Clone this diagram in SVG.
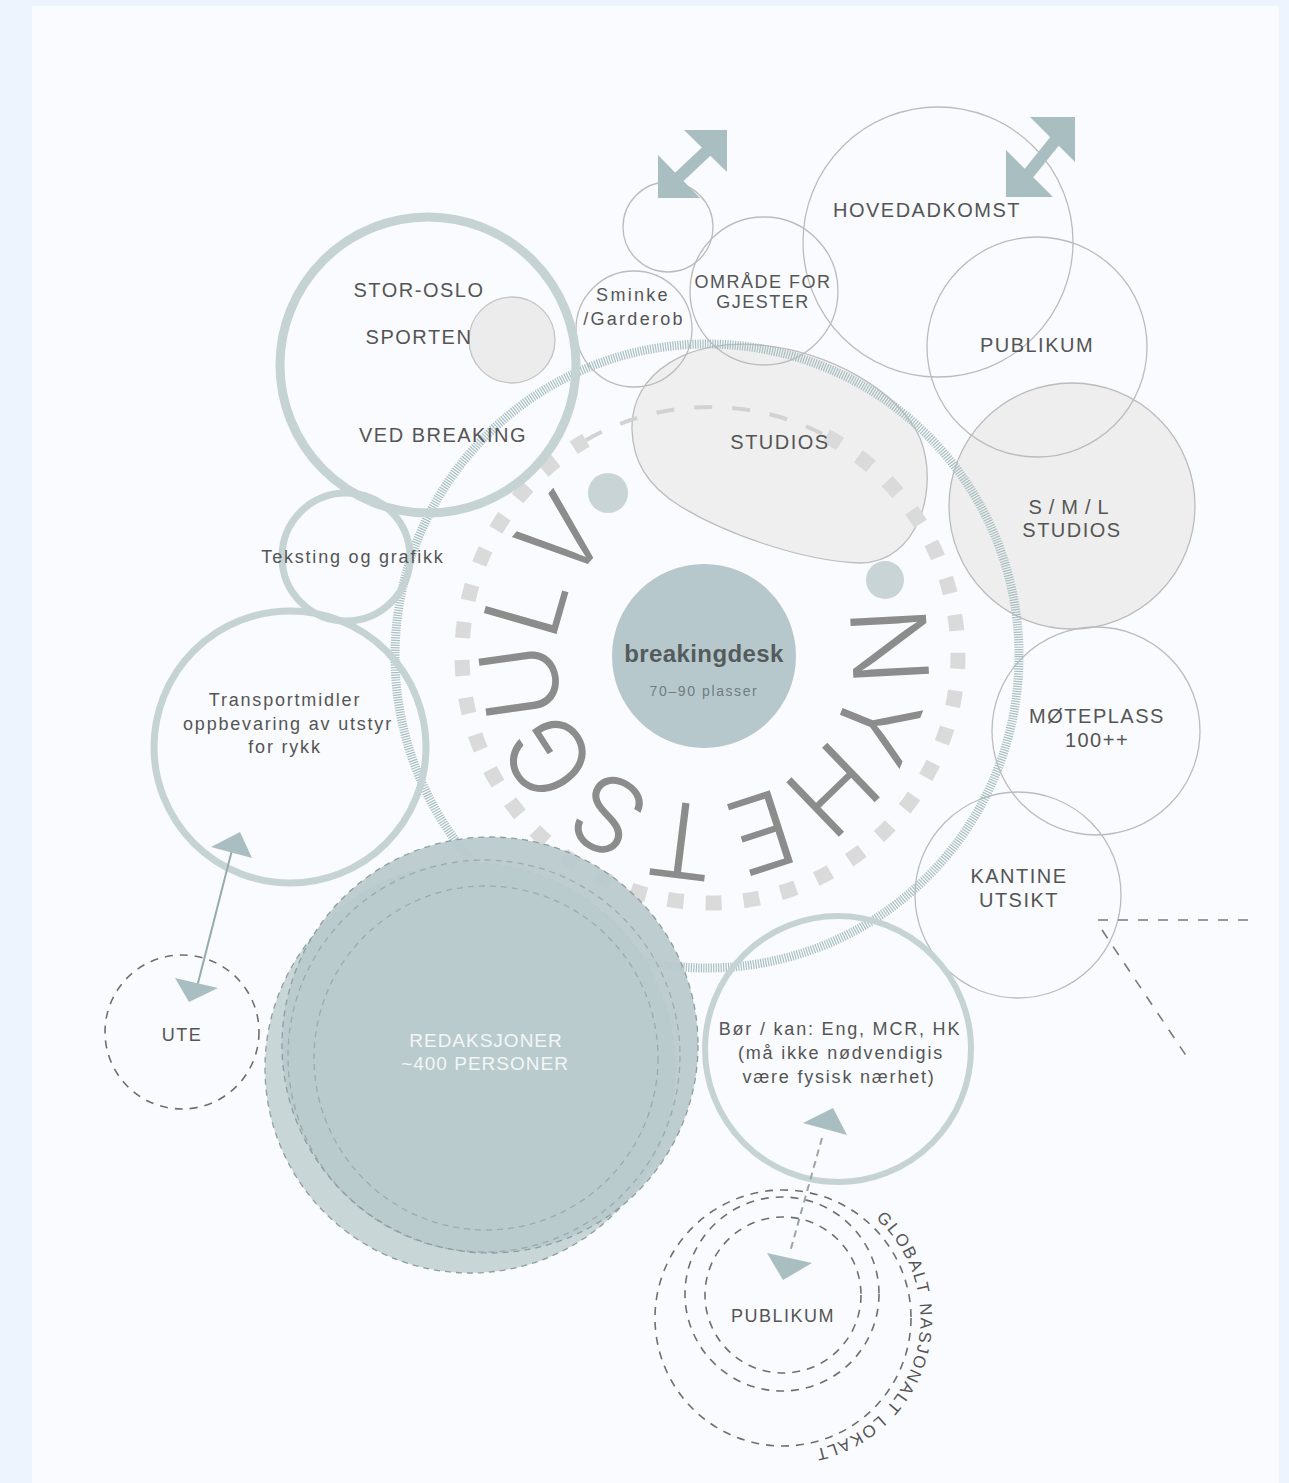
<svg xmlns="http://www.w3.org/2000/svg" width="1289" height="1483" viewBox="0 0 1289 1483">
<defs>
<style>
.lbl{font-family:"Liberation Sans",Arial,sans-serif;fill:#555;text-anchor:middle}
.cap{font-size:20px;letter-spacing:1.5px}
.cap18{font-size:18px;letter-spacing:1.5px}
.low{font-size:18px;letter-spacing:1.8px}
.thin{fill:none;stroke:#bcbcbc;stroke-width:1.3}
.thick{fill:none;stroke:#c6d3d4}
.dash{stroke:#8d9ea1;stroke-width:1.3;stroke-dasharray:6 5}
.ddash{fill:none;stroke:#6f6f6f;stroke-width:1.6;stroke-dasharray:8 7}
.head{fill:#a9bec1}
.big{font-family:Inter,"Liberation Sans",Arial,sans-serif;font-weight:300;font-size:104px;fill:#8c8c8c;text-anchor:middle}
.arc{font-family:"Liberation Sans",Arial,sans-serif;font-size:17px;fill:#555;letter-spacing:1.8px}
</style>
<path id="gp" d="M 875.8 1218.5 A 134 134 0 0 1 771.1 1451.5"/>
</defs>
<rect x="0" y="0" width="1289" height="1483" fill="#edf4fe"/>
<rect x="32" y="6" width="1247" height="1477" fill="#f9fbfe"/>

<g id="smlstudios">
<circle cx="1072" cy="506" r="123" fill="#eeeeee" stroke="#bcbcbc" stroke-width="1.3"/>
</g>
<g id="studios">
<path d="M 632 430 C 630 372 690 338 760 345 C 830 352 898 390 920 438 C 940 488 918 563 860 563 C 800 561 722 532 680 506 C 646 485 633 460 632 430 Z" fill="#efefef" stroke="#bcbcbc" stroke-width="1.3"/>
</g>
<g id="thin-circles">
<circle id="topcircle" class="thin" cx="668" cy="227" r="45"/>
<circle id="sminke" class="thin" cx="634" cy="329" r="58"/>
<circle id="omrade" class="thin" cx="764" cy="291" r="74"/>
<circle id="hovedadkomst" class="thin" cx="938" cy="242" r="135"/>
<circle id="publikum-top" class="thin" cx="1037" cy="347" r="110"/>
<circle id="moteplass" class="thin" cx="1096" cy="731" r="104"/>
<circle id="kantine" class="thin" cx="1018" cy="895" r="103"/>
</g>

<g id="nyhetsgulv">
<path d="M 826.4 436 A 248 248 0 1 1 586 440.2" fill="none" stroke="#dadada" stroke-width="15" stroke-dasharray="16 22"/>
<path d="M 586 440.2 A 248 248 0 0 1 826.4 436" fill="none" stroke="#d2d2d2" stroke-width="4" stroke-dasharray="18 20"/>
<circle cx="707" cy="656" r="312" fill="none" stroke="#a9bec0" stroke-width="9" stroke-dasharray="1.2 1.3"/>
<circle cx="608" cy="493" r="20" fill="#c8d4d5"/>
<circle cx="885" cy="580" r="19" fill="#c8d4d5"/>
<g class="big">
<text x="704" y="508" transform="rotate(87 704 656)">N</text>
<text x="704" y="508" transform="rotate(112 704 656)">Y</text>
<text x="704" y="508" transform="rotate(136 704 656)">H</text>
<text x="704" y="508" transform="rotate(162 704 656)">E</text>
<text x="704" y="508" transform="rotate(187 704 656)">T</text>
<text x="704" y="508" transform="rotate(211 704 656)">S</text>
<text x="704" y="508" transform="rotate(237 704 656)">G</text>
<text x="704" y="508" transform="rotate(262 704 656)">U</text>
<text x="704" y="508" transform="rotate(286 704 656)">L</text>
<text x="704" y="508" transform="rotate(310 704 656)">V</text>
</g>
</g>

<g id="breakingdesk">
<circle cx="704" cy="656" r="92" fill="#b7c8cc"/>
<text x="704" y="662" font-family="Liberation Sans,Arial,sans-serif" font-size="24" font-weight="bold" fill="#545b5d" text-anchor="middle" letter-spacing="0.4">breakingdesk</text>
<text x="704" y="696" font-family="Liberation Sans,Arial,sans-serif" font-size="14" fill="#6f7c80" text-anchor="middle" letter-spacing="1.6">70–90 plasser</text>
</g>

<g id="storoslo">
<circle cx="512" cy="340" r="43" fill="#ececec" stroke="#c4c4c4" stroke-width="1.3"/>
<circle class="thick" cx="428" cy="365" r="148" stroke-width="9"/>
<text class="lbl cap" x="419" y="297">STOR-OSLO</text>
<text class="lbl cap" x="419" y="344">SPORTEN</text>
<text class="lbl cap" x="443" y="442">VED BREAKING</text>
</g>
<g id="teksting">
<circle class="thick" cx="346" cy="557" r="64" stroke-width="7"/>
<text class="lbl low" x="353" y="563">Teksting og grafikk</text>
</g>
<g id="transport">
<circle class="thick" cx="290" cy="747" r="136" stroke-width="7"/>
<text class="lbl low" x="285" y="706">Transportmidler</text>
<text class="lbl low" x="288" y="730">oppbevaring av utstyr</text>
<text class="lbl low" x="285" y="753">for rykk</text>
</g>
<g id="borkan">
<circle class="thick" cx="838" cy="1049" r="133" stroke-width="6"/>
<text class="lbl low" x="840" y="1035">Bør / kan: Eng, MCR, HK</text>
<text class="lbl low" x="841" y="1059">(må ikke nødvendigis</text>
<text class="lbl low" x="839" y="1083">være fysisk nærhet)</text>
</g>

<g id="redaksjoner">
<circle cx="470" cy="1068" r="205" fill="#c9d6d8" class="dash"/>
<circle cx="490" cy="1045" r="208" fill="#b9cacd" fill-opacity="0.95" class="dash"/>
<circle cx="484" cy="1056" r="196" fill="none" class="dash" opacity="0.7"/>
<circle cx="486" cy="1058" r="172" fill="none" class="dash" opacity="0.7"/>
<text x="486" y="1047" font-family="Liberation Sans,Arial,sans-serif" font-size="19" fill="#f3f6f7" text-anchor="middle" letter-spacing="1">REDAKSJONER</text>
<text x="485" y="1070" font-family="Liberation Sans,Arial,sans-serif" font-size="19" fill="#f3f6f7" text-anchor="middle" letter-spacing="1">~400 PERSONER</text>
</g>

<g id="ute">
<circle class="ddash" cx="182" cy="1032" r="77"/>
<text class="lbl cap18" x="182" y="1041">UTE</text>
</g>

<g id="publikum-bottom">
<circle class="ddash" cx="783" cy="1295" r="78"/>
<circle class="ddash" cx="782" cy="1294" r="97"/>
<circle class="ddash" cx="783" cy="1318" r="128"/>
<text class="lbl cap18" x="783" y="1322">PUBLIKUM</text>
<text class="arc"><textPath href="#gp">GLOBALT</textPath></text>
<text class="arc"><textPath href="#gp" startOffset="97.6">NASJONALT</textPath></text>
<text class="arc"><textPath href="#gp" startOffset="220.4">LOKALT</textPath></text>
</g>

<g id="top-nodes">
<text class="lbl low" x="633" y="301" style="letter-spacing:2.3px">Sminke</text>
<text class="lbl low" x="634" y="325" style="letter-spacing:2.3px">/Garderob</text>
<text class="lbl cap18" x="763" y="288">OMRÅDE FOR</text>
<text class="lbl cap18" x="763" y="308">GJESTER</text>
<text class="lbl cap" x="927" y="217">HOVEDADKOMST</text>
<text class="lbl cap" x="1037" y="352">PUBLIKUM</text>
<text class="lbl cap" x="780" y="449">STUDIOS</text>
<text class="lbl cap" x="1072" y="514" style="letter-spacing:7px">S/M/L</text>
<text class="lbl cap" x="1072" y="537">STUDIOS</text>
<text class="lbl cap" x="1097" y="723">MØTEPLASS</text>
<text class="lbl cap" x="1097" y="747">100++</text>
<text class="lbl cap" x="1019" y="883">KANTINE</text>
<text class="lbl cap" x="1019" y="907">UTSIKT</text>
</g>

<g id="connectors">
<line x1="676" y1="180" x2="710" y2="148" stroke="#a9bec1" stroke-width="12"/>
<polygon class="head" points="727,130 684,130 727,172"/>
<polygon class="head" points="658,198 658,155 700,198"/>
<line x1="1025" y1="178" x2="1058" y2="137" stroke="#a9bec1" stroke-width="12"/>
<polygon class="head" points="1075,117 1030,117 1075,162"/>
<polygon class="head" points="1006,197 1006,150 1053,197"/>
<line x1="197" y1="987" x2="232" y2="850" stroke="#97aaad" stroke-width="2"/>
<polygon class="head" points="211,847 240,832 252,858"/>
<polygon class="head" points="175,978 218,988 189,1002"/>
<line x1="822" y1="1138" x2="790" y2="1252" stroke="#9aa5a7" stroke-width="2" stroke-dasharray="7 5"/>
<polygon class="head" points="803,1123 833,1108 847,1135"/>
<polygon class="head" points="767,1253 812,1263 783,1280"/>
<line x1="1098" y1="920" x2="1254" y2="920" stroke="#7a7a7a" stroke-width="1.6" stroke-dasharray="10 10"/>
<line x1="1102" y1="930" x2="1187" y2="1057" stroke="#7a7a7a" stroke-width="1.6" stroke-dasharray="10 10"/>
</g>
</svg>
